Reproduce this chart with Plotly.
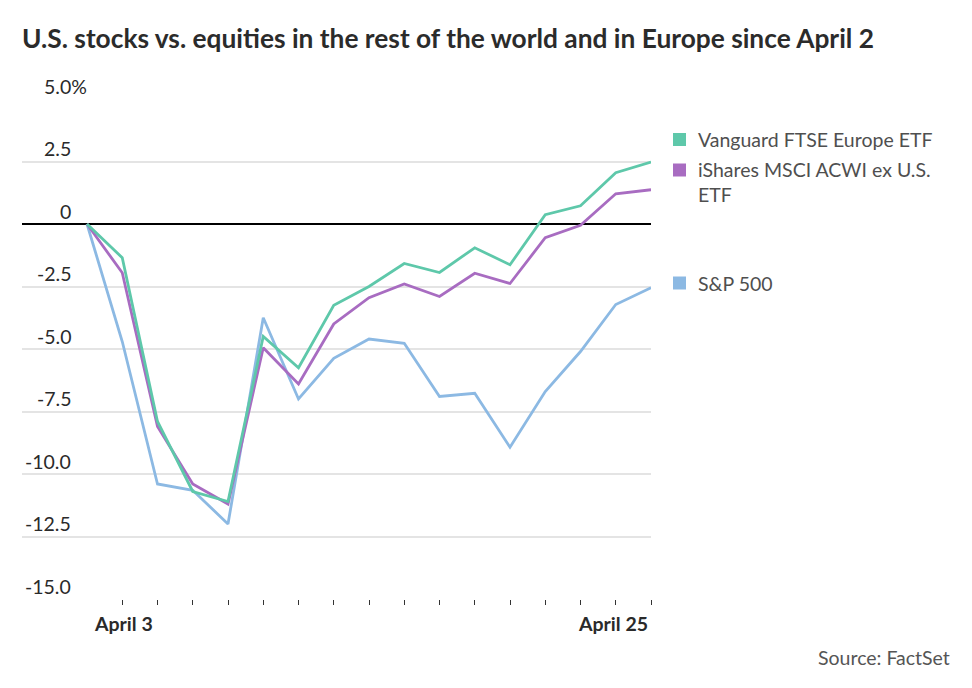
import plotly.graph_objects as go

dates = ["April 2", "April 3", "April 4", "April 7", "April 8", "April 9", "April 10",
         "April 11", "April 14", "April 15", "April 16", "April 17", "April 21",
         "April 22", "April 23", "April 24", "April 25"]
europe = [0, -1.35, -7.9, -10.7, -11.1, -4.5, -5.75, -3.25, -2.5, -1.58, -1.94,
          -0.95, -1.63, 0.37, 0.73, 2.05, 2.48]
acwi = [0, -1.95, -8.1, -10.4, -11.2, -4.95, -6.4, -4.0, -2.95, -2.4, -2.9,
        -1.97, -2.38, -0.55, -0.05, 1.21, 1.37]
sp500 = [0, -4.7, -10.4, -10.65, -12.0, -3.75, -7.0, -5.37, -4.6, -4.77, -6.9,
         -6.77, -8.93, -6.7, -5.1, -3.22, -2.55]
y_ticks = [5.0, 2.5, 0, -2.5, -5.0, -7.5, -10.0, -12.5, -15.0]
y_tick_labels = ["5.0%", "2.5", "0", "-2.5", "-5.0", "-7.5", "-10.0", "-12.5", "-15.0"]
x_label_dates = ["April 3", "April 25"]

series = [
    ("S&P 500", sp500, "#8cb9e3"),
    ("iShares MSCI ACWI ex U.S.<br>ETF", acwi, "#a86cc1"),
    ("Vanguard FTSE Europe ETF", europe, "#5ec8aa"),
]

idx = list(range(len(dates)))

# layout geometry (pixels)
W, H = 972, 688
L, R, T, B = 22, 321, 99, 89
pw, ph = W - L - R, H - T - B
FS = 19.5

def px_x(p):
    return (p - L) / pw

def px_y(p):
    return (H - B - p) / ph

fig = go.Figure()
for name, vals, col in series:
    fig.add_trace(go.Scatter(x=idx, y=vals, mode="lines", name=name,
                             line=dict(color=col, width=2.8), showlegend=False))

annotations = []
# y tick labels
for v, lab in zip(y_ticks, y_tick_labels):
    annotations.append(dict(x=px_x(73), xref="paper", y=v, yref="y",
                            text=lab, showarrow=False, xanchor="right", yanchor="middle",
                            xshift=16 if lab.endswith("%") else 0, yshift=13,
                            font=dict(family="Lato", size=FS, color="#2a2a2a")))
# x tick labels
for d in x_label_dates:
    i = dates.index(d)
    last = i == len(dates) - 1
    annotations.append(dict(x=i, xref="x", y=px_y(623), yref="paper", text="<b>" + d + "</b>",
                            showarrow=False, xanchor="right" if last else "center",
                            xshift=-1 if last else 1, yanchor="middle",
                            font=dict(family="Lato", size=FS, color="#2a2a2a")))

# legend
legend_items = [
    ("Vanguard FTSE Europe ETF", "#5ec8aa", 139.5, 139.5),
    ("iShares MSCI ACWI ex U.S.<br>ETF", "#a86cc1", 170, 181.5),
    ("S&P 500", "#8cb9e3", 283, 283),
]
shapes = []
for text, col, sq_y, txt_y in legend_items:
    shapes.append(dict(type="rect", xref="paper", yref="paper",
                       x0=px_x(673), x1=px_x(686), y0=px_y(sq_y + 6.5), y1=px_y(sq_y - 6.5),
                       fillcolor=col, line=dict(width=0)))
    annotations.append(dict(x=px_x(696), xref="paper", y=px_y(txt_y), yref="paper",
                            text=text, showarrow=False, xanchor="left", yanchor="middle",
                            align="left",
                            font=dict(family="Lato", size=FS, color="#4f4f4f")))

# source
annotations.append(dict(x=px_x(952), xref="paper", y=px_y(657), yref="paper",
                        text="Source: FactSet", showarrow=False, xanchor="right", yanchor="middle",
                        font=dict(family="Lato", size=FS, color="#555555")))

fig.update_layout(
    width=W, height=H,
    margin=dict(l=L, r=R, t=T, b=B),
    paper_bgcolor="white", plot_bgcolor="white",
    title=dict(text="<b>U.S. stocks vs. equities in the rest of the world and in Europe since April 2</b>",
               xref="container", x=22 / W, xanchor="left",
               yref="container", y=1 - 39 / H, yanchor="middle",
               font=dict(family="Lato", size=26.3, color="#2b2b2b")),
    annotations=annotations,
    shapes=shapes,
    showlegend=False,
)
fig.update_xaxes(range=[-1.844, 16], tickvals=idx[1:], ticks="outside", ticklen=5,
                 tickwidth=1, tickcolor="#333333", showticklabels=False,
                 showgrid=False, zeroline=False, showline=False, fixedrange=True)
fig.update_yaxes(range=[-15, 5], tickvals=y_ticks, showticklabels=False,
                 showgrid=True, gridcolor="#e4e4e4", gridwidth=1.5,
                 zeroline=True, zerolinecolor="#000000", zerolinewidth=1.5,
                 showline=False, fixedrange=True)

fig.write_html("out.html", config={"displayModeBar": False},
               post_script="document.body.style.margin='0';")
